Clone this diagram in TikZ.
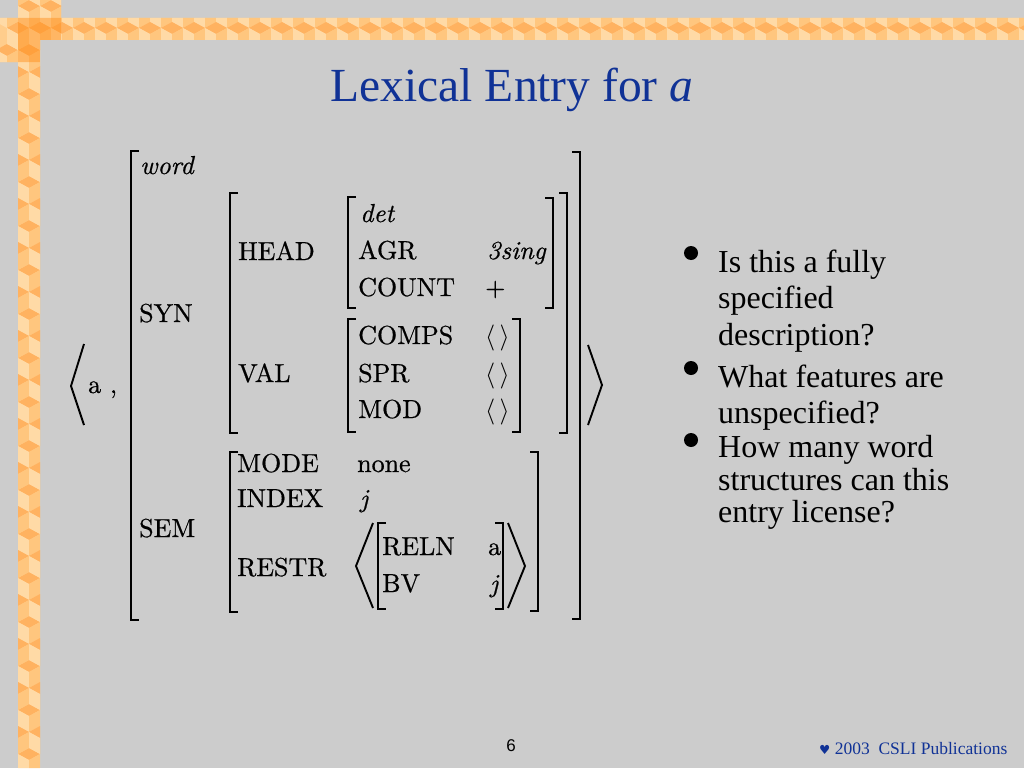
\RequirePackage{fix-cm}
\documentclass[tikz,border=0pt]{standalone}
\usepackage{fontspec}
\newfontfamily\timesf{Liberation Serif}
\newfontfamily\arialf{Liberation Sans}
\newfontfamily\dejavu{DejaVu Sans}
\newfontfamily\avmf{lmroman10-regular.otf}[FakeBold=0.6,ItalicFont=lmroman10-italic.otf,ItalicFeatures={FakeBold=0.6}]
\definecolor{bg}{RGB}{204,204,204}
\definecolor{titleblue}{RGB}{16,50,150}
\definecolor{orbase}{RGB}{255,205,140}
\definecolor{ortop}{RGB}{255,178,96}
\definecolor{orleft}{RGB}{255,218,166}
\definecolor{orright}{RGB}{255,198,126}
\definecolor{ordark}{RGB}{255,140,20}
\newcommand{\cubeat}[2]{%
 \fill[ortop] (#1-11,#2+6) -- (#1,#2) -- (#1+11,#2+6) -- (#1,#2+12) -- cycle;
 \fill[orleft] (#1-11,#2+6) -- (#1,#2+12) -- (#1,#2+28) -- (#1-11,#2+22) -- cycle;
 \fill[orright] (#1,#2+12) -- (#1+11,#2+6) -- (#1+11,#2+22) -- (#1,#2+28) -- cycle;}
\newcommand{\lbrk}[3]{\draw[brk] (#1+8,#2) -- (#1,#2) -- (#1,#3) -- (#1+8,#3);}
\newcommand{\rbrk}[3]{\draw[brk] (#1-8,#2) -- (#1,#2) -- (#1,#3) -- (#1-8,#3);}
\tikzset{
 brk/.style={line width=2.4pt, line join=miter, black},
 ang/.style={line width=1.9pt, line join=miter, black},
 avm/.style={font=\avmf\fontsize{26}{31}\selectfont, anchor=base west, inner sep=0pt},
 bul/.style={font=\timesf\fontsize{32}{36}\selectfont, anchor=base west, inner sep=0pt},
 dot/.style={circle, fill=black, inner sep=0pt, minimum size=14pt},
}
\begin{document}
\begin{tikzpicture}[x=1pt,y=-1pt]
\useasboundingbox (0,0) rectangle (1024,768);
\fill[bg] (0,0) rectangle (1024,768);
% border pattern
\begin{scope}
\clip (18,0) rectangle (40,768) (0,18) rectangle (1024,40) (40,0) rectangle (61,18) (0,40) rectangle (18,62);
\fill[orbase] (0,0) rectangle (1024,768);
\foreach \k in {-1,...,18} {\cubeat{29}{44*\k}}
\foreach \k in {-1,...,17} {\cubeat{18}{44*\k+22}\cubeat{40}{44*\k+22}}
\foreach \j in {-1,...,46} {\pgfmathsetmacro\cx{29+22*\j}\cubeat{\cx}{0}\cubeat{\cx}{44}}
\foreach \j in {0,...,46} {\pgfmathsetmacro\cx{18+22*\j}\cubeat{\cx}{-22}\cubeat{\cx}{22}}
\fill[ordark, opacity=0.45] (18,18) rectangle (61,40) (18,40) rectangle (40,62);
\end{scope}
% title
\node[font=\timesf\fontsize{47.5}{50}\selectfont, text=titleblue, anchor=base, inner sep=0pt] (title) at (512,101) {Lexical Entry for \textit{a}};
% AVM brackets
\lbrk{131}{151}{620}
\rbrk{580}{152}{619}
\lbrk{230}{193}{433}
\rbrk{567}{193}{433}
\lbrk{348}{197}{308}
\rbrk{553}{198}{308}
\lbrk{348}{319}{432}
\rbrk{520}{319}{432}
\lbrk{230}{452}{612}
\rbrk{538}{452}{611}
\lbrk{378}{523}{609}
\rbrk{503}{523}{609}
\draw[ang] (84,344) -- (71,386) -- (84,425);
\draw[ang] (588,345) -- (602,385) -- (588,425);
\draw[ang] (373,523) -- (356,566) -- (373,608);
\draw[ang] (508,523) -- (525,566) -- (508,608);
% AVM text
\node[avm] (ta) at (88,393) {a ,};
\node[avm] (tword) at (140,174) {\textit{word}};
\node[avm] (tsyn) at (139,322) {SYN};
\node[avm] (tsem) at (139,537) {SEM};
\node[avm] (thead) at (238,260) {HEAD};
\node[avm] (tval) at (238,382) {VAL};
\node[avm] (tdet) at (360,222) {\textit{det}};
\node[avm] (tagr) at (358,259) {AGR};
\node[avm] (tsing) at (487,259) {\textit{3sing}};
\node[avm] (tcount) at (358,296) {COUNT};
\node[avm] (tplus) at (485,296) {+};
\node[avm] (tcomps) at (358,344) {COMPS};
\node[avm] (vcomps) at (485,344) {$\langle\,\rangle$};
\node[avm] (tspr) at (358,382) {SPR};
\node[avm] (vspr) at (485,382) {$\langle\,\rangle$};
\node[avm] (tmod) at (358,418) {MOD};
\node[avm] (vmod) at (485,418) {$\langle\,\rangle$};
\node[avm] (tmode) at (237,472) {MODE};
\node[avm] (vmode) at (357,472) {none};
\node[avm] (tindex) at (237,507) {INDEX};
\node[avm] (vindex) at (360,507) {\textit{j}};
\node[avm] (trestr) at (237,576) {RESTR};
\node[avm] (treln) at (382,555) {RELN};
\node[avm] (vreln) at (488,555) {a};
\node[avm] (tbv) at (382,592) {BV};
\node[avm] (vbv) at (490,592) {\textit{j}};
% bullets
\node[dot] (d1) at (691,253) {};
\node[dot] (d2) at (691,368) {};
\node[dot] (d3) at (691,440) {};
\node[bul] (l1) at (718,272) {Is this a fully};
\node[bul] (l2) at (718,308) {specified};
\node[bul] (l3) at (718,345) {description?};
\node[bul] (l4) at (718,387) {What features are};
\node[bul] (l5) at (718,423) {unspecified?};
\node[bul] (l6) at (718,457) {How many word};
\node[bul] (l7) at (718,490) {structures can this};
\node[bul] (l8) at (718,522) {entry license?};
% footer
\node[font=\arialf\fontsize{17}{20}\selectfont, anchor=base, inner sep=0pt] (pg) at (511,751) {6};
\node[font=\timesf\fontsize{17.5}{20}\selectfont, text=titleblue, anchor=base west, inner sep=0pt] (copy) at (819,754) {{\dejavu\fontsize{12.5}{14}\selectfont ♥} 2003~ CSLI Publications};
\end{tikzpicture}
\end{document}
